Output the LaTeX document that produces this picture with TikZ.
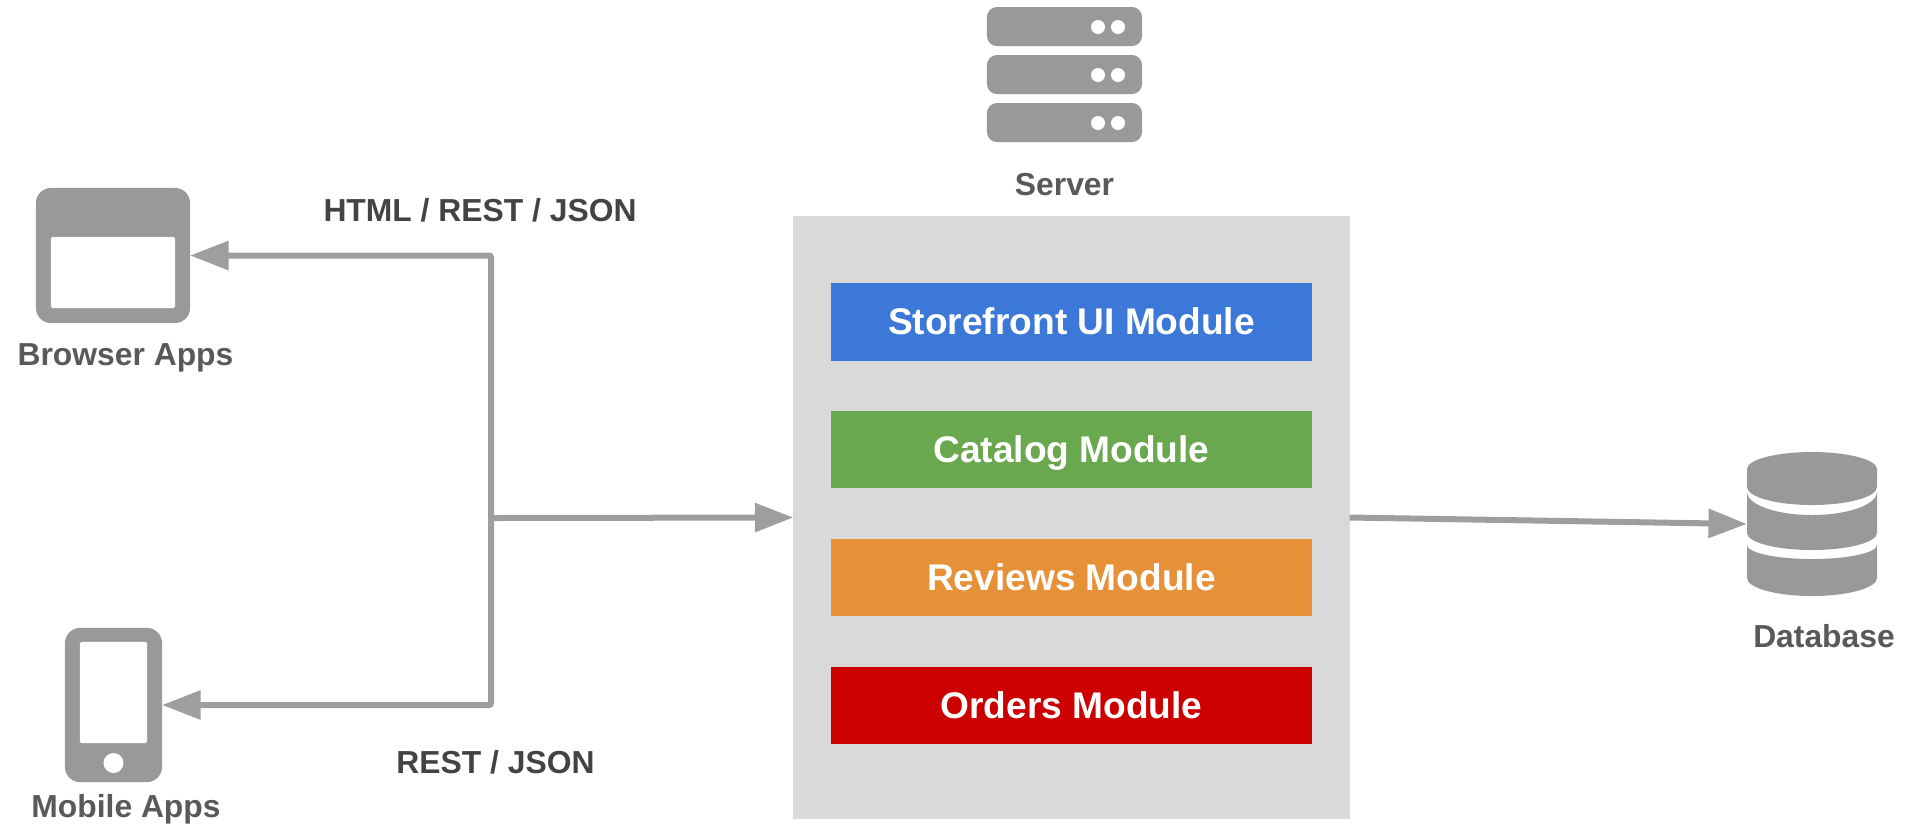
\documentclass[tikz,border=0pt]{standalone}
\usepackage{fontspec}
\setmainfont{Liberation Sans}
\usetikzlibrary{arrows.meta}
\definecolor{icongray}{HTML}{999999}
\definecolor{linkgray}{HTML}{9E9E9E}
\definecolor{boxgray}{HTML}{D9D9D9}
\definecolor{labelgray}{HTML}{595959}
\definecolor{linklabel}{HTML}{434343}
\definecolor{uiblue}{HTML}{3C78D8}
\definecolor{catgreen}{HTML}{6AA84F}
\definecolor{revorange}{HTML}{E69138}
\definecolor{ordred}{HTML}{CC0000}
\tikzset{
  iconbox/.style={fill=icongray,rounded corners=0.15cm,inner sep=0pt,outer sep=0pt},
  hole/.style={fill=white,rounded corners=0.015cm,inner sep=0pt},
  rack/.style={fill=icongray,rounded corners=0.1cm,inner sep=0pt,minimum width=1.55cm,minimum height=0.39cm},
  led/.style={circle,fill=white,inner sep=0pt,minimum size=0.14cm},
  module/.style={inner sep=0pt,minimum width=4.81cm,minimum height=0.77cm,text height=0.25cm,text depth=0pt,text=white,font=\fontsize{10.55}{12}\selectfont\bfseries},
  caption/.style={anchor=base,inner sep=0pt,text=labelgray,font=\fontsize{9.05}{11}\selectfont\bfseries},
  linktext/.style={anchor=base,inner sep=0pt,text=linklabel,font=\fontsize{9.05}{11}\selectfont\bfseries},
  link/.style={draw=linkgray,line width=0.06cm,rounded corners=0.02cm,-{Triangle[length=0.385cm,width=0.28cm]}}
}
\begin{document}
\begin{tikzpicture}[x=0.01cm,y=0.01cm]
\useasboundingbox (0,0) rectangle (1908,-826);
% browser
\node [iconbox,minimum width=1.54cm,minimum height=1.35cm] (browser) at (113,-255.5) {};
\node [hole,minimum width=1.24cm,minimum height=0.71cm] (window) at (113,-272.5) {};
\node [caption] (browserlabel) at (125.5,-365) {Browser Apps};
% mobile
\node [iconbox,minimum width=0.97cm,minimum height=1.54cm] (mobile) at (113.5,-705) {};
\node [hole,minimum width=0.67cm,minimum height=1.01cm] (screen) at (113.5,-692.5) {};
\node [led,minimum size=0.2cm] (homekey) at (113.5,-763) {};
\node [caption] (mobilelabel) at (126,-817) {Mobile Apps};
% server
\node [rack] (rackA) at (1064.5,-26.5) {};
\node [rack] (rackB) at (1064.5,-74.5) {};
\node [rack] (rackC) at (1064.5,-122.5) {};
\node [led] (ledAa) at (1098,-27) {};
\node [led] (ledAb) at (1118,-27) {};
\node [led] (ledBa) at (1098,-75) {};
\node [led] (ledBb) at (1118,-75) {};
\node [led] (ledCa) at (1098,-123) {};
\node [led] (ledCb) at (1118,-123) {};
\node [caption] (serverlabel) at (1064.5,-195) {Server};
% application box
\node [fill=boxgray,inner sep=0pt,outer sep=0pt,minimum width=5.56cm,minimum height=6.03cm] (app) at (1071.5,-517.5) {};
\node [module,fill=uiblue] (storefront) at (1071.5,-322) {Storefront UI Module};
\node [module,fill=catgreen] (catalog) at (1071.5,-449.5) {Catalog Module};
\node [module,fill=revorange] (reviews) at (1071.5,-577.5) {Reviews Module};
\node [module,fill=ordred] (orders) at (1071.5,-705.5) {Orders Module};
% database
\fill [icongray] (1747,-469) arc (180:0:65 and 17) -- (1877,-487) arc (0:-180:65 and 18) -- cycle;
\fill [icongray] (1747,-492) arc (180:360:65 and 23) -- (1877,-533) arc (0:-180:65 and 17) -- cycle;
\fill [icongray] (1747,-545) arc (180:360:65 and 14) -- (1877,-578) arc (0:-180:65 and 18) -- cycle;
\node [inner sep=0pt,outer sep=0pt,minimum width=1.3cm,minimum height=1.44cm] (database) at (1812,-524) {};
\node [caption] (databaselabel) at (1824,-647) {Database};
% links
\coordinate (hub) at (491,-518);
\draw [link] (hub) |- (browser.east);
\draw [link] (hub) |- (mobile.east);
\draw [link] (hub) -- (app.west);
\draw [link] (app.east) -- (database.west);
\node [linktext] (htmllabel) at (480,-221) {HTML / REST / JSON};
\node [linktext] (restlabel) at (495.5,-773) {REST / JSON};
\end{tikzpicture}
\end{document}
